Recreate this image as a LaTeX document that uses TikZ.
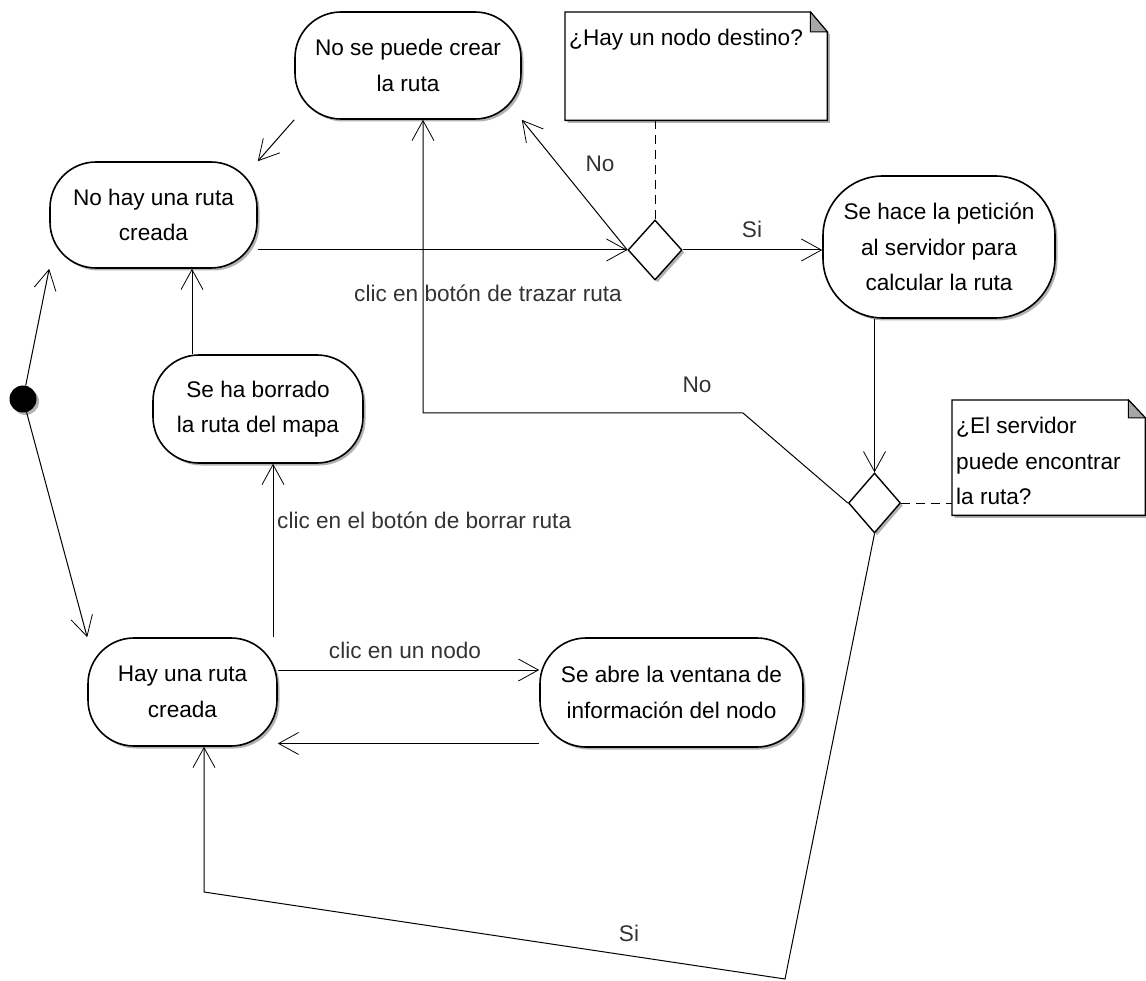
\documentclass[tikz,border=0pt]{standalone}
\usepackage{fontspec}
\setmainfont{Liberation Sans}
\usetikzlibrary{shapes.geometric, arrows.meta, shadows, calc}
\newcommand{\nfont}{\fontsize{22.6pt}{35.5pt}\selectfont}
\begin{document}
\begin{tikzpicture}[x=1pt, y=-1pt,
  shad/.style={drop shadow={shadow xshift=2.5pt, shadow yshift=-2.5pt, opacity=0.3, fill=black}},
  state/.style={draw, line width=1.6pt, rounded corners=46pt, fill=white, align=center,
    font=\nfont, inner sep=0pt, shad},
  decision/.style={diamond, draw, line width=1.4pt, fill=white, minimum width=54pt,
    minimum height=60pt, inner sep=0pt, shad},
  notebox/.style={draw, line width=1.4pt, fill=white, shad},
  fold/.style={draw, line width=1pt, fill=black!35},
  notetext/.style={font=\nfont, align=left, inner sep=0pt, anchor=north west},
  conn/.style={line width=1pt, draw=black, -{Straight Barb[length=20pt, width=22pt, line width=0.8pt]}},
  dashline/.style={line width=1pt, draw=black, dash pattern=on 9pt off 6pt},
  lbl/.style={font=\nfont, text=black!80, inner sep=0pt}
]
\useasboundingbox (0,0) rectangle (1146,981);

% states
\node[state, minimum width=226pt, minimum height=107pt] (nosepuede) at (408,65.5) {No se puede crear\\la ruta};
\node[state, minimum width=207pt, minimum height=106pt] (nohay) at (153.5,215) {No hay una ruta\\creada};
\node[state, rounded corners=60pt, minimum width=232pt, minimum height=142pt] (sehace) at (939,247) {Se hace la petición\\al servidor para\\calcular la ruta};
\node[state, minimum width=210pt, minimum height=108pt] (borrado) at (258,409) {Se ha borrado\\la ruta del mapa};
\node[state, minimum width=189pt, minimum height=108pt] (hay) at (182.5,692) {Hay una ruta\\creada};
\node[state, minimum width=263pt, minimum height=109pt] (abre) at (671.5,692.5) {Se abre la ventana de\\información del nodo};

% decisions
\node[decision] (d1) at (655,250) {};
\node[decision, minimum width=52pt] (d2) at (874.5,503) {};

% initial
\node[circle, fill=black, minimum size=27pt, inner sep=0pt, shad] (init) at (23,399) {};

% notes
\node[minimum width=262pt, minimum height=108pt, inner sep=0pt, anchor=north west] (note1) at (565,12) {};
\node[minimum width=193pt, minimum height=115pt, inner sep=0pt, anchor=north west] (note2) at (952,400) {};
\path[notebox] (note1.north west) -- ([xshift=-17pt]note1.north east) -- ([yshift=-20pt]note1.north east)
  -- (note1.south east) -- (note1.south west) -- cycle;
\path[fold] ([xshift=-17pt]note1.north east) -- ([yshift=-20pt]note1.north east)
  -- ([xshift=-17pt,yshift=-20pt]note1.north east) -- cycle;
\path[notebox] (note2.north west) -- ([xshift=-17pt]note2.north east) -- ([yshift=-18pt]note2.north east)
  -- (note2.south east) -- (note2.south west) -- cycle;
\path[fold] ([xshift=-17pt]note2.north east) -- ([yshift=-18pt]note2.north east)
  -- ([xshift=-17pt,yshift=-18pt]note2.north east) -- cycle;
\node[notetext] (note1t) at ([xshift=4pt,yshift=-17pt]note1.north west) {¿Hay un nodo destino?};
\node[notetext] (note2t) at ([xshift=4pt,yshift=-17pt]note2.north west) {¿El servidor\\puede encontrar\\la ruta?};

% waypoints
\coordinate (k1) at (743,413);
\coordinate (k2) at (785,979);
\coordinate (k3) at (204,892);

% connectors
\draw[conn] (init) -- (nohay.south west);
\draw[conn] (init) -- (hay.north west);
\draw[conn] (nosepuede.south west) -- (nohay.north east);
\draw[conn] (nohay.east |- d1.west) -- (d1.west);
\draw[conn] (d1.west) -- (nosepuede.south east);
\draw[conn] (d1.east) -- (d1.east -| sehace.west);
\draw[dashline] (d1.north |- note1.south) -- (d1.north);
\draw[conn] (d2.north |- sehace.south) -- (d2.north);
\draw[dashline] (d2.east) -- (d2.east -| note2.west);
\draw[conn] (d2.west) -- (k1) -| ([xshift=15pt]nosepuede.south);
\draw[conn] (d2.south) -- (k2) -- (k3) -- (k3 |- hay.south);
\draw[conn] ([xshift=90.5pt]hay.north) -- ([xshift=90.5pt]hay.north |- borrado.south);
\draw[conn] ([xshift=38.5pt]nohay.south |- borrado.north) -- ([xshift=38.5pt]nohay.south);
\draw[conn] ([yshift=22pt]hay.east) -- ([yshift=22pt]hay.east -| abre.west);
\draw[conn] ([yshift=-51pt]abre.west) -- ([yshift=-51pt]abre.west -| hay.east);

% labels
\node[lbl, anchor=base west] (lbtrazar) at (354,302) {clic en botón de trazar ruta};
\node[lbl, anchor=base] (lbno1) at (600,172) {No};
\node[lbl, anchor=base] (lbsi1) at (752,238) {Si};
\node[lbl, anchor=base] (lbno2) at (697,393) {No};
\node[lbl, anchor=base] (lbsi2) at (629,941) {Si};
\node[lbl, anchor=base west] (lbborrar) at (277,528) {clic en el botón de borrar ruta};
\node[lbl, anchor=base] (lbnodo) at (405,658) {clic en un nodo};
\end{tikzpicture}
\end{document}
